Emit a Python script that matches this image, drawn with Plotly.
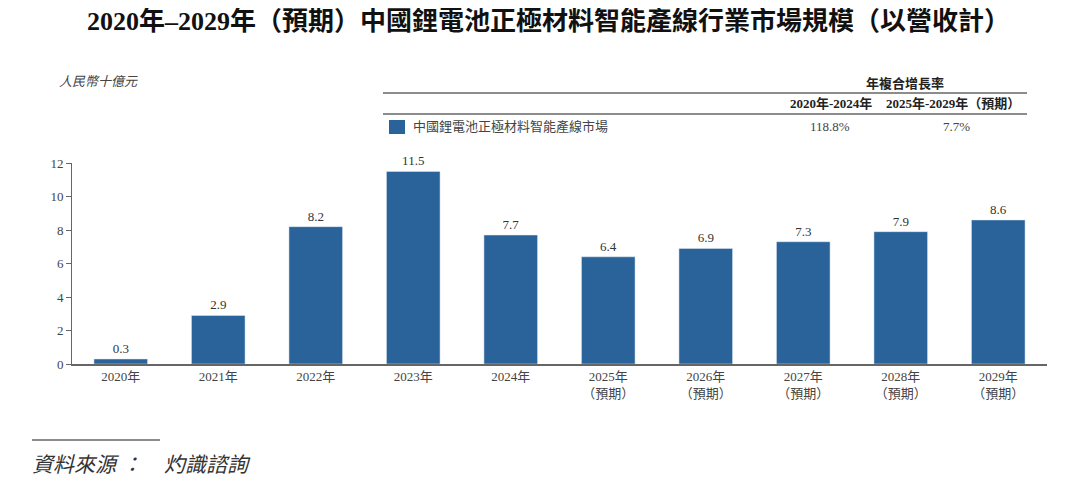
import plotly.graph_objects as go

years = ["2020年", "2021年", "2022年", "2023年", "2024年",
         "2025年<br>（預期）", "2026年<br>（預期）", "2027年<br>（預期）",
         "2028年<br>（預期）", "2029年<br>（預期）"]
values = [0.3, 2.9, 8.2, 11.5, 7.7, 6.4, 6.9, 7.3, 7.9, 8.6]
y_ticks = [0, 2, 4, 6, 8, 10, 12]
series_name = "中國鋰電池正極材料智能產線市場"
cagr_headers = ["2020年-2024年", "2025年-2029年（預期）"]
cagr_values = ["118.8%", "7.7%"]

FONT = "Liberation Serif, Noto Sans CJK TC, serif"
BAR = "#2a6399"
W, H = 1080, 487
OFF = 8  # page body margin offset
# target screen coords of plot area
SL, SR, ST, SB = 72, 1047, 163, 364
L = SL - OFF
T = ST - OFF
R = W - (SR - OFF)
B = H - (SB - OFF)
PW = W - L - R
PH = H - T - B

def px(x):
    return (x - OFF - L) / PW

def py(y):
    return (H - B - (y - OFF)) / PH

fig = go.Figure()
fig.add_trace(go.Bar(
    x=list(range(len(years))), y=values, marker_color=BAR, width=0.55,
    text=[f"{v:.1f}" for v in values], textposition="outside",
    textfont=dict(family=FONT, size=13, color="#333333"),
    cliponaxis=False, showlegend=False, name=series_name,
))

fig.update_layout(
    width=W, height=H, margin=dict(l=L, r=R, t=T, b=B),
    paper_bgcolor="white", plot_bgcolor="white",
    font=dict(family=FONT, size=13, color="#333333"),
    xaxis=dict(range=[-0.5, 9.5], tickmode="array", tickvals=list(range(len(years))),
               ticktext=years, showline=True, linecolor="#666666", linewidth=1.5,
               showgrid=False, ticks="", tickfont=dict(size=13, color="#444444")),
    yaxis=dict(range=[0, 12], tickmode="array", tickvals=y_ticks, showline=True,
               linecolor="#666666", linewidth=1, showgrid=False, ticks="outside",
               ticklen=5, tickcolor="#666666", zeroline=False,
               tickfont=dict(size=13, color="#444444")),
)

def a(x, y, text, size=13, color="#444444", anchor="center"):
    return dict(x=px(x), y=py(y), xref="paper", yref="paper", text=text, showarrow=False,
                font=dict(size=size, color=color, family=FONT), xanchor=anchor, yanchor="middle")

ann = [
    a(548, 21, "<b>2020年–2029年（預期）中國鋰電池正極材料智能產線行業市場規模（以營收計）</b>", 26, "#111111"),
    a(57, 82, "<i>人民幣十億元</i>", 13, "#444444", "left"),
    a(905, 83, "<b>年複合增長率</b>", 13, "#222222"),
    a(831, 103, f"<b>{cagr_headers[0]}</b>", 13, "#222222"),
    a(953, 103, f"<b>{cagr_headers[1]}</b>", 13, "#222222"),
    a(411, 127, series_name, 13, "#444444", "left"),
    a(830, 127, cagr_values[0], 13, "#444444"),
    a(956, 127, cagr_values[1], 13, "#444444"),
    a(30, 465, "<i>資料來源 ：</i>", 21, "#333333", "left"),
    a(162, 465, "<i>灼識諮詢</i>", 21, "#333333", "left"),
]

shapes = [
    dict(type="line", xref="paper", yref="paper", x0=px(383), x1=px(1027), y0=py(93), y1=py(93),
         line=dict(color="#666666", width=1.5)),
    dict(type="line", xref="paper", yref="paper", x0=px(383), x1=px(1027), y0=py(114), y1=py(114),
         line=dict(color="#666666", width=1.5)),
    dict(type="rect", xref="paper", yref="paper", x0=px(389), x1=px(405), y0=py(134), y1=py(120),
         fillcolor=BAR, line=dict(width=0)),
    dict(type="line", xref="paper", yref="paper", x0=px(32), x1=px(160), y0=py(440), y1=py(440),
         line=dict(color="#666666", width=1.5)),
]
fig.update_layout(annotations=ann, shapes=shapes)
fig.write_html("out.html")
